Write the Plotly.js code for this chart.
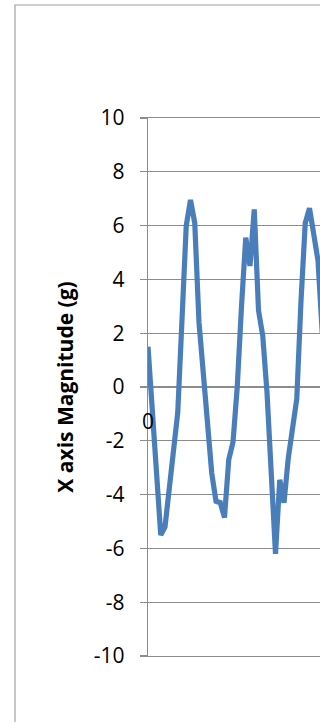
<!DOCTYPE html>
<html>
<head>
<meta charset="utf-8">
<script src="https://cdn.plot.ly/plotly-3.0.1.min.js"></script>
<style>
html,body{margin:0;padding:0;background:#fff;overflow:hidden;}
#chart{width:320px;height:722px;}
</style>
</head>
<body>
<div id="chart"></div>
<script>
// Sample index (category) for each reading
const sampleIndex = [0,1,2,3,4,5,6,7,8,9,10,11,12,13,14,15,16,17,18,19,20,
  21,22,23,24,25,26,27,28,29,30,31,32,33,34,35,36,37,38,39,40,41];
// X axis magnitude (g)
const magnitude = [1.5,-0.75,-3.05,-5.5,-5.2,-3.8,-2.4,-0.95,2.5,6.0,6.95,
  6.1,2.4,0.4,-1.6,-3.2,-4.25,-4.3,-4.85,-2.7,-2.05,
  0.0,3.0,5.55,4.5,6.6,2.85,1.9,-0.2,-3.1,-6.2,
  -3.45,-4.3,-2.65,-1.35,-0.45,3.2,6.1,6.65,5.8,4.7,2.0];
const yTickValues = [-10,-8,-6,-4,-2,0,2,4,6,8,10];
const yTickLabels = ["-10","-8","-6","-4","-2","0","2","4","6","8","10"];
const firstCategoryLabel = "0";
const yTitle = "X axis Magnitude (g)";

const L = 148, R = 0, T = 118, B = 66, W = 320, H = 722;
const plotW = W - L - R, plotH = H - T - B;
const pxPerCat = 4.25;

const trace = {
  x: sampleIndex, y: magnitude, type: 'scatter', mode: 'lines',
  line: {color: '#4a7ebb', width: 5.2, shape: 'linear'},
  hoverinfo: 'none', cliponaxis: true
};

const fontFam = '"Open Sans", "Liberation Sans", Arial, sans-serif';
const gridCol = '#8c8c8c';
const layout = {
  width: W, height: H,
  margin: {l: L, r: R, t: T, b: B, pad: 0},
  paper_bgcolor: '#ffffff', plot_bgcolor: '#ffffff',
  showlegend: false,
  xaxis: {
    range: [0, plotW / pxPerCat],
    showgrid: false, zeroline: false, showticklabels: false,
    ticks: '', showline: true, mirror: true, linecolor: gridCol, linewidth: 1.3,
    fixedrange: true
  },
  yaxis: {
    range: [-10, 10],
    tickvals: yTickValues, ticktext: yTickLabels,
    showgrid: true, gridcolor: gridCol, gridwidth: 1.3,
    zeroline: false,
    showline: true, linecolor: gridCol, linewidth: 1.3,
    ticks: 'outside', ticklen: 7, tickcolor: gridCol, tickwidth: 1.3,
    ticklabelstandoff: 11,
    tickfont: {family: fontFam, size: 21, color: '#000000'},
    title: {text: yTitle, standoff: 14,
      font: {family: fontFam, size: 21, color: '#000000', weight: 'bold'}},
    automargin: false, fixedrange: true
  },
  annotations: [{
    text: firstCategoryLabel, xref: 'x', yref: 'y', x: 0, y: -1.26,
    xanchor: 'center', yanchor: 'middle', showarrow: false,
    font: {family: fontFam, size: 21, color: '#000000'}
  }],
  shapes: [{
    type: 'rect', xref: 'paper', yref: 'paper', layer: 'below',
    x0: (15 - L) / plotW, x1: (340 - L) / plotW,
    y0: 1 - (740 - T) / plotH, y1: 1 - (5 - T) / plotH,
    line: {color: '#a0a0a0', width: 1.2}, fillcolor: 'rgba(0,0,0,0)'
  }]
};

Plotly.newPlot('chart', [trace], layout, {staticPlot: true, displayModeBar: false});
</script>
</body>
</html>
